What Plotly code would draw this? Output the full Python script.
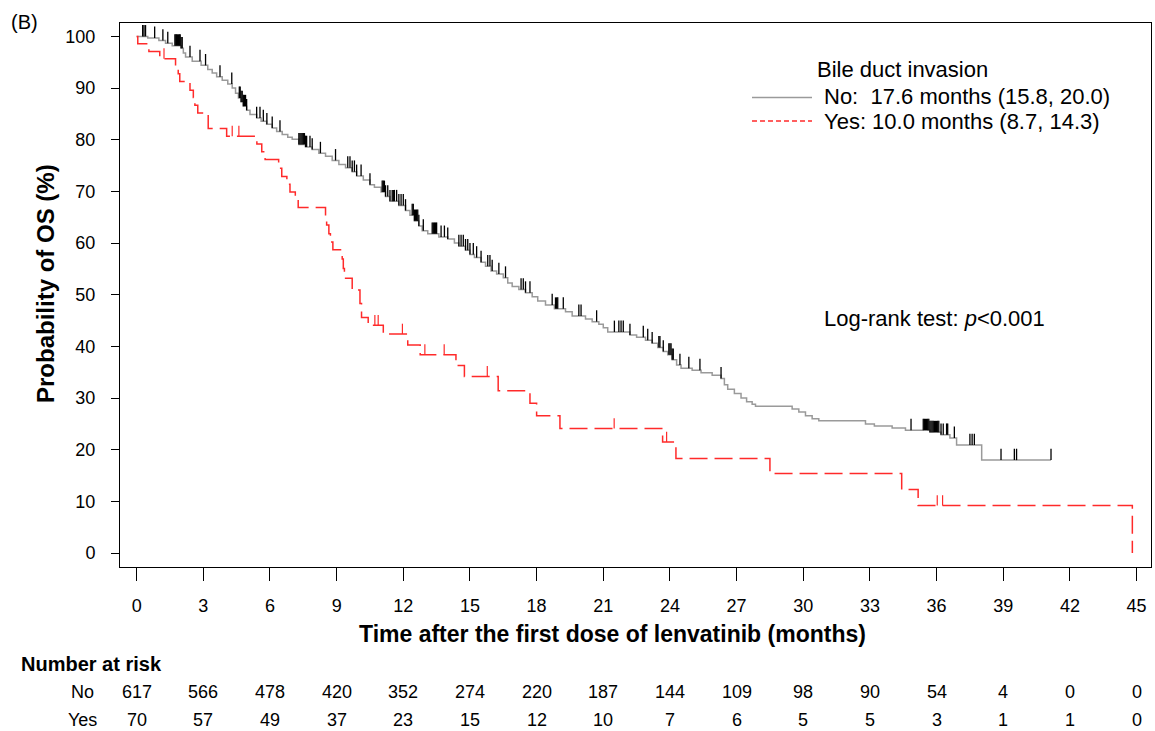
import plotly.graph_objects as go

# ---------------- data ----------------
# Bile duct invasion: No  (Kaplan-Meier step points)
no_time = [0, 0.5, 1.0, 1.3, 1.6, 2.0, 2.1, 2.2, 2.5, 2.9, 3.2, 3.4, 3.6, 3.85, 4.1, 4.3,
           4.45, 4.58, 4.7, 4.8, 4.95, 5.1, 5.4, 5.6, 5.85, 6.1, 6.3, 6.55, 6.8, 7.0, 7.3,
           7.6, 7.9, 8.2, 8.5, 8.8, 9.1, 9.4, 9.7, 9.9, 10.2, 10.5, 10.7, 11.0, 11.2, 11.4,
           11.8, 12.1, 12.3, 12.5, 12.7, 12.85, 13.1, 13.6, 14.0, 14.3, 14.5, 14.8, 15.0,
           15.2, 15.5, 15.7, 15.95, 16.2, 16.5, 16.7, 16.9, 17.2, 17.5, 17.8, 18.05, 18.4,
           18.8, 19.3, 19.6, 20.2, 20.5, 20.8, 21.0, 21.2, 22.2, 22.5, 22.9, 23.2, 23.45,
           23.7, 23.9, 24.1, 24.3, 24.5, 25.0, 25.4, 25.9, 26.3, 26.45, 26.6, 26.9, 27.2,
           27.45, 27.7, 27.85, 29.5, 29.8, 30.1, 30.4, 30.7, 32.8, 33.2, 34.0, 34.6, 35.7,
           36.2, 36.6, 36.9, 38.03, 41.15]
no_surv = [100, 99.7, 99.2, 98.7, 98.2, 97.7, 96.8, 96.0, 95.2, 94.4, 93.6, 92.9, 92.2, 91.5,
           90.8, 90.0, 89.0, 88.1, 87.3, 86.5, 85.7, 84.9, 84.2, 83.6, 83.0, 82.3, 81.6, 81.0,
           80.5, 80.1, 79.1, 78.6, 78.1, 77.4, 76.8, 76.0, 75.2, 74.6, 73.8, 73.0, 72.2, 71.3,
           70.8, 69.9, 69.0, 68.1, 67.3, 66.3, 65.4, 64.3, 63.3, 62.4, 61.8, 61.2, 60.8, 60.0,
           59.4, 58.6, 57.8, 57.2, 56.3, 55.5, 54.6, 54.0, 53.3, 52.3, 51.6, 51.0, 50.4, 49.6,
           48.8, 48.0, 47.3, 46.7, 45.9, 45.3, 44.8, 44.3, 43.6, 42.8, 42.2, 41.8, 41.2, 40.6,
           39.8, 39.0, 38.4, 37.4, 36.4, 35.8, 35.4, 34.9, 34.4, 33.8, 32.6, 31.7, 30.9, 30.0,
           29.3, 28.8, 28.4, 27.9, 27.3, 26.6, 26.0, 25.6, 25.0, 24.6, 24.2, 23.8, 23.4, 22.9,
           22.3, 20.9, 18.0, 18.0]
no_censor = [0.27, 0.33, 0.4, 0.81, 1.18, 1.4, 1.72, 1.76, 1.8, 1.84, 1.88, 1.92, 1.96, 2.0,
             2.05, 2.4, 2.85, 3.1, 3.75, 4.28, 4.62, 4.66, 4.7, 4.75, 4.8, 4.85, 4.9, 4.95,
             5.4, 5.55, 5.7, 5.86, 6.1, 6.45, 7.3, 7.35, 7.4, 7.45, 7.5, 7.55, 7.6, 7.65, 7.8,
             7.9, 8.27, 8.95, 9.5, 9.6, 9.7, 9.8, 9.9, 10.1, 10.5, 11.05, 11.1, 11.15, 11.2,
             11.3, 11.4, 11.5, 11.55, 11.6, 11.7, 11.8, 11.9, 12.0, 12.1, 12.4, 12.45, 12.5,
             12.55, 12.6, 12.65, 12.7, 12.9, 13.3, 13.35, 13.4, 13.45, 13.5, 13.7, 13.85, 14.0,
             14.5, 14.6, 14.7, 14.8, 14.9, 15.0, 15.15, 15.3, 15.5, 15.8, 15.9, 16.0, 16.3,
             16.6, 17.3, 17.4, 17.5, 17.7, 18.7, 18.85, 18.9, 18.95, 19.2, 19.9, 20.0, 20.7,
             21.5, 21.7, 21.8, 21.9, 22.2, 22.8, 23.0, 23.2, 23.5, 23.55, 23.7, 23.95, 24.0,
             24.05, 24.1, 24.15, 24.45, 24.85, 25.35, 26.3, 34.85, 35.4, 35.45, 35.5, 35.55,
             35.6, 35.65, 35.7, 35.75, 35.8, 35.85, 35.9, 35.95, 36.0, 36.05, 36.1, 36.2, 36.3,
             36.45, 36.5, 36.8, 37.5, 37.6, 37.7, 38.9, 39.5, 39.6, 41.15]

# Bile duct invasion: Yes
yes_time = [0, 0.05, 0.55, 1.04, 1.75, 1.87, 1.94, 2.4, 2.55, 2.62, 2.75, 3.22, 4.05, 5.41,
            5.63, 5.78, 6.39, 6.53, 6.76, 6.9, 7.14, 7.27, 8.5, 8.55, 8.65, 8.72, 8.83, 9.25,
            9.3, 9.35, 9.7, 10.05, 10.12, 10.42, 11.1, 12.2, 12.76, 14.37, 14.75, 16.27,
            17.7, 18.0, 19.05, 23.67, 24.27, 28.5, 34.43, 35.17, 44.81]
yes_surv = [100, 98.6, 97.1, 95.7, 94.2, 92.8, 91.3, 89.6, 88.2, 86.7, 85.2, 82.2, 80.7, 79.2,
            77.7, 76.2, 74.5, 72.9, 71.4, 69.9, 68.4, 66.9, 65.2, 63.5, 61.8, 60.2, 58.7, 56.9,
            55.1, 53.2, 50.9, 48.3, 45.6, 44.1, 42.4, 40.3, 38.4, 36.3, 34.2, 31.4, 29.0,
            26.6, 24.1, 21.5, 18.3, 15.4, 12.3, 9.2, 0]
yes_censor = [1.23, 4.3, 4.6, 10.72, 10.87, 11.96, 12.97, 13.84, 15.78, 21.49, 23.85, 36.03, 36.27]

risk_times = [0, 3, 6, 9, 12, 15, 18, 21, 24, 27, 30, 33, 36, 39, 42, 45]
risk_no = [617, 566, 478, 420, 352, 274, 220, 187, 144, 109, 98, 90, 54, 4, 0, 0]
risk_yes = [70, 57, 49, 37, 23, 15, 12, 10, 7, 6, 5, 5, 3, 1, 1, 0]

x_ticks = list(range(0, 46, 3))
y_ticks = list(range(0, 101, 10))

# ---------------- helpers ----------------
def surv_at(t, times, surv):
    s = surv[0]
    for ti, si in zip(times, surv):
        if ti <= t:
            s = si
        else:
            break
    return s

def censor_segments(cens, times, surv, h):
    xs, ys = [], []
    for c in cens:
        s = surv_at(c, times, surv)
        xs += [c, c, None]
        ys += [s, s + h, None]
    return xs, ys

FONT = "Liberation Sans, Arial, Helvetica, sans-serif"

fig = go.Figure()

fig.add_trace(go.Scatter(x=no_time, y=no_surv, mode="lines", line_shape="hv",
                         line=dict(color="#9a9a9a", width=1.5), showlegend=False,
                         hoverinfo="skip"))
cx, cy = censor_segments(no_censor, no_time, no_surv, 2.2)
fig.add_trace(go.Scatter(x=cx, y=cy, mode="lines", line=dict(color="#000000", width=1.3),
                         showlegend=False, hoverinfo="skip"))

fig.add_trace(go.Scatter(x=yes_time, y=yes_surv, mode="lines", line_shape="hv",
                         line=dict(color="#ff2a2a", width=1.5, dash="18px,7px"),
                         showlegend=False, hoverinfo="skip"))
cx, cy = censor_segments(yes_censor, yes_time, yes_surv, 2.0)
fig.add_trace(go.Scatter(x=cx, y=cy, mode="lines", line=dict(color="#ff2a2a", width=1.2),
                         showlegend=False, hoverinfo="skip"))

# ---------------- layout ----------------
L, R, T, B = 120, 4, 23, 164
W, H = 1155, 731
pw, ph = W - L - R, H - T - B

def px(xp):
    return (xp - L) / pw

def py(yp):
    return (H - B - yp) / ph

annotations = []
# number at risk table
for t, n in zip(risk_times, risk_no):
    annotations.append(dict(x=t, y=py(692), xref="x", yref="paper", text=str(n),
                            showarrow=False, xanchor="center", yanchor="middle",
                            font=dict(size=18, color="black", family=FONT)))
for t, n in zip(risk_times, risk_yes):
    annotations.append(dict(x=t, y=py(720), xref="x", yref="paper", text=str(n),
                            showarrow=False, xanchor="center", yanchor="middle",
                            font=dict(size=18, color="black", family=FONT)))
annotations += [
    dict(x=px(82), y=py(692), xref="paper", yref="paper", text="No", showarrow=False,
         xanchor="center", yanchor="middle", font=dict(size=18, color="black", family=FONT)),
    dict(x=px(82), y=py(720), xref="paper", yref="paper", text="Yes", showarrow=False,
         xanchor="center", yanchor="middle", font=dict(size=18, color="black", family=FONT)),
    dict(x=px(19), y=py(664), xref="paper", yref="paper", text="<b>Number at risk</b>",
         showarrow=False, xanchor="left", yanchor="middle",
         font=dict(size=20, color="black", family=FONT)),
    dict(x=px(612), y=py(634), xref="paper", yref="paper",
         text="<b>Time after the first dose of lenvatinib (months)</b>", showarrow=False,
         xanchor="center", yanchor="middle", font=dict(size=23, color="black", family=FONT)),
    dict(x=px(45), y=py(284), xref="paper", yref="paper", text="<b>Probability of OS (%)</b>",
         showarrow=False, textangle=-90, xanchor="center", yanchor="middle",
         font=dict(size=24, color="black", family=FONT)),
    dict(x=px(9), y=py(22), xref="paper", yref="paper", text="(B)", showarrow=False,
         xanchor="left", yanchor="middle", font=dict(size=20, color="black", family=FONT)),
    # legend
    dict(x=px(815), y=py(69), xref="paper", yref="paper", text="Bile duct invasion",
         showarrow=False, xanchor="left", yanchor="middle",
         font=dict(size=22, color="black", family=FONT)),
    dict(x=px(822), y=py(97), xref="paper", yref="paper",
         text="No:\u00a0\u00a017.6 months (15.8, 20.0)", showarrow=False, xanchor="left",
         yanchor="middle", font=dict(size=22, color="black", family=FONT)),
    dict(x=px(822), y=py(121), xref="paper", yref="paper",
         text="Yes: 10.0 months (8.7, 14.3)", showarrow=False, xanchor="left",
         yanchor="middle", font=dict(size=22, color="black", family=FONT)),
    dict(x=px(822), y=py(318), xref="paper", yref="paper",
         text="Log-rank test: <i>p</i>&lt;0.001", showarrow=False, xanchor="left",
         yanchor="middle", font=dict(size=22, color="black", family=FONT)),
]

shapes = [
    dict(type="line", xref="paper", yref="paper", x0=px(752), x1=px(812), y0=py(97.5),
         y1=py(97.5), line=dict(color="#9a9a9a", width=1.5)),
    dict(type="line", xref="paper", yref="paper", x0=px(752), x1=px(812), y0=py(121),
         y1=py(121), line=dict(color="#ff2a2a", width=1.5, dash="5px,3px")),
]

fig.update_layout(
    width=W, height=H,
    margin=dict(l=L, r=R, t=T, b=B, pad=0),
    paper_bgcolor="white", plot_bgcolor="white",
    font=dict(family=FONT, color="black"),
    showlegend=False,
    annotations=annotations,
    shapes=shapes,
    xaxis=dict(range=[-0.75, 45.65], tickmode="array", tickvals=x_ticks,
               ticktext=[str(v) for v in x_ticks], ticks="outside", ticklen=13,
               tickwidth=1, tickcolor="black", showline=True, mirror=True,
               linecolor="black", linewidth=1, showgrid=False, zeroline=False,
               tickfont=dict(size=18, family=FONT, color="black"), ticklabelstandoff=9),
    yaxis=dict(range=[-2.69, 102.6], tickmode="array", tickvals=y_ticks,
               ticktext=[str(v) for v in y_ticks], ticks="outside", ticklen=8,
               tickwidth=1, tickcolor="black", showline=True, mirror=True,
               linecolor="black", linewidth=1, showgrid=False, zeroline=False,
               tickfont=dict(size=18, family=FONT, color="black"), ticklabelstandoff=12),
)

fig.write_html("out.html")
